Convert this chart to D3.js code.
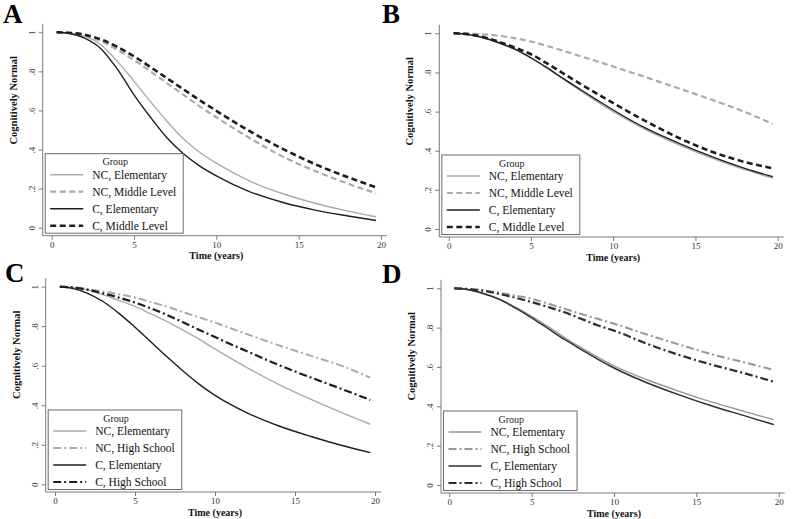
<!DOCTYPE html>
<html>
<head>
<meta charset="utf-8">
<script src="https://cdnjs.cloudflare.com/ajax/libs/d3/7.8.5/d3.min.js"></script>
<style>
  html, body { margin: 0; padding: 0; background: #fff; }
  svg { display: block; }
</style>
</head>
<body>
<svg id="chart" width="792" height="519"></svg>
<script>
// ---------------- DATA ----------------
const timeYears = [0.3, 1, 2, 3, 4, 5, 6, 7, 8, 9, 10, 12, 14, 16, 18, 19.7];
const xTicks = [0, 5, 10, 15, 20];
const yTicks = [0, 0.2, 0.4, 0.6, 0.8, 1];
const yTickLabels = ["0", ".2", ".4", ".6", ".8", "1"];
const panelLetters = ["A", "B", "C", "D"];
const legendTitle = "Group";
const xTitle = "Time (years)";
const yTitle = "Cognitively Normal";

// Panel A
const labelsA = ["NC, Elementary", "NC, Middle Level", "C, Elementary", "C, Middle Level"];
const A_NC_Elem   = [1, 0.997, 0.98, 0.935, 0.85, 0.75, 0.645, 0.545, 0.455, 0.385, 0.33, 0.24, 0.175, 0.125, 0.085, 0.056];
const A_NC_Middle = [1, 0.997, 0.985, 0.955, 0.91, 0.858, 0.80, 0.74, 0.68, 0.62, 0.565, 0.46, 0.365, 0.29, 0.225, 0.176];
const A_C_Elem    = [1, 0.995, 0.97, 0.915, 0.81, 0.68, 0.565, 0.46, 0.378, 0.315, 0.265, 0.185, 0.13, 0.09, 0.06, 0.037];
const A_C_Middle  = [1, 0.998, 0.988, 0.963, 0.925, 0.877, 0.822, 0.765, 0.708, 0.652, 0.598, 0.495, 0.405, 0.325, 0.258, 0.207];

// Panel B
const labelsB = ["NC, Elementary", "NC, Middle Level", "C, Elementary", "C, Middle Level"];
const B_NC_Elem   = [1, 0.996, 0.98, 0.953, 0.918, 0.872, 0.82, 0.763, 0.707, 0.652, 0.60, 0.507, 0.43, 0.362, 0.303, 0.26];
const B_NC_Middle = [1, 0.999, 0.995, 0.988, 0.975, 0.958, 0.935, 0.91, 0.883, 0.857, 0.83, 0.775, 0.718, 0.66, 0.598, 0.537];
const B_C_Elem    = [1, 0.996, 0.98, 0.953, 0.92, 0.875, 0.823, 0.767, 0.713, 0.66, 0.608, 0.514, 0.438, 0.37, 0.31, 0.267];
const B_C_Middle  = [1, 0.997, 0.983, 0.958, 0.928, 0.893, 0.845, 0.793, 0.742, 0.692, 0.643, 0.55, 0.465, 0.395, 0.342, 0.31];

// Panel C
const labelsC = ["NC, Elementary", "NC, High School", "C, Elementary", "C, High School"];
const C_NC_Elem = [1, 0.998, 0.985, 0.96, 0.93, 0.9, 0.862, 0.823, 0.78, 0.735, 0.685, 0.59, 0.505, 0.43, 0.36, 0.304];
const C_NC_High = [1, 0.998, 0.99, 0.976, 0.962, 0.945, 0.922, 0.899, 0.872, 0.845, 0.818, 0.76, 0.703, 0.65, 0.597, 0.54];
const C_C_Elem  = [1, 0.993, 0.968, 0.925, 0.865, 0.795, 0.72, 0.645, 0.573, 0.507, 0.45, 0.362, 0.295, 0.242, 0.195, 0.16];
const C_C_High  = [1, 0.997, 0.985, 0.966, 0.945, 0.92, 0.89, 0.857, 0.82, 0.782, 0.745, 0.673, 0.603, 0.54, 0.48, 0.427];

// Panel D
const labelsD = ["NC, Elementary", "NC, High School", "C, Elementary", "C, High School"];
const D_NC_Elem = [1, 0.995, 0.976, 0.947, 0.905, 0.857, 0.805, 0.75, 0.698, 0.65, 0.605, 0.535, 0.475, 0.42, 0.372, 0.332];
const D_NC_High = [1, 0.998, 0.99, 0.978, 0.963, 0.947, 0.922, 0.896, 0.87, 0.845, 0.82, 0.765, 0.713, 0.663, 0.622, 0.585];
const D_C_Elem  = [1, 0.995, 0.975, 0.945, 0.9, 0.85, 0.795, 0.74, 0.69, 0.64, 0.595, 0.52, 0.457, 0.40, 0.35, 0.307];
const D_C_High  = [1, 0.997, 0.988, 0.972, 0.952, 0.93, 0.905, 0.878, 0.845, 0.812, 0.785, 0.718, 0.66, 0.61, 0.566, 0.525];

// ---------------- STYLES ----------------
const GRAY = "#ababab";
const GRAY_D = "#979797";
const BLACK = "#1e1e1e";
const BLACK_D = "#2e2e2e";
const styleNCElem  = { color: GRAY,  width: 1.4, dash: null };
const styleCElem   = { color: BLACK, width: 1.4, dash: null };
const styleNCDash  = { color: GRAY,  width: 2.2, dash: "6,3.5" };
const styleCDash   = { color: BLACK, width: 2.6, dash: "6,3.5" };
const styleNCDD    = { color: GRAY,  width: 2.0, dash: "8,3,2,3" };
const styleCDD     = { color: BLACK, width: 2.2, dash: "8,3,2,3" };
const styleNCElemD = { color: GRAY_D,  width: 1.4, dash: null };
const styleCElemD  = { color: BLACK_D, width: 1.5, dash: null };
const styleNCDDD   = { color: GRAY_D,  width: 2.0, dash: "8,3,2,3" };
const styleCDDD    = { color: BLACK_D, width: 2.2, dash: "8,3,2,3" };

const panels = [
  { letter: panelLetters[0], lx: 3, ly: 23, yAxisX: 42.7, x0: 51.7, x20: 381, y1: 32.3, y0: 227.7, xAxisY: 235.7,
    labels: labelsA, series: [A_NC_Elem, A_NC_Middle, A_C_Elem, A_C_Middle],
    styles: [styleNCElem, styleNCDash, styleCElem, styleCDash] },
  { letter: panelLetters[1], lx: 382, ly: 23, yAxisX: 439.3, x0: 448.7, x20: 777.7, y1: 33.3, y0: 229, xAxisY: 237,
    labels: labelsB, series: [B_NC_Elem, B_NC_Middle, B_C_Elem, B_C_Middle],
    styles: [styleNCElem, styleNCDash, styleCElem, styleCDash] },
  { letter: panelLetters[2], lx: 5, ly: 282, yAxisX: 45.7, x0: 55, x20: 375, y1: 286.7, y0: 484.3, xAxisY: 492,
    labels: labelsC, series: [C_NC_Elem, C_NC_High, C_C_Elem, C_C_High],
    styles: [styleNCElem, styleNCDD, styleCElem, styleCDD] },
  { letter: panelLetters[3], lx: 382, ly: 283, yAxisX: 441, x0: 449.3, x20: 778.7, y1: 288.3, y0: 485, xAxisY: 493,
    labels: labelsD, series: [D_NC_Elem, D_NC_High, D_C_Elem, D_C_High],
    styles: [styleNCElemD, styleNCDDD, styleCElemD, styleCDDD] }
];

const svg = d3.select("#chart");
svg.append("rect").attr("width", 792).attr("height", 519).attr("fill", "#fff");

const SERIF = "'Liberation Serif', 'Times New Roman', serif";
const AXIS_COLOR = "#7a7a7a";

function applyStyle(sel, st) {
  sel.attr("fill", "none")
     .attr("stroke", st.color)
     .attr("stroke-width", st.width)
     .attr("stroke-dasharray", st.dash)
     .attr("stroke-linejoin", "round");
}

panels.forEach(p => {
  const g = svg.append("g");
  const x = d3.scaleLinear().domain([0, 20]).range([p.x0, p.x20]);
  const y = d3.scaleLinear().domain([0, 1]).range([p.y0, p.y1]);

  // panel letter
  g.append("text").attr("x", p.lx).attr("y", p.ly)
    .attr("font-family", SERIF).attr("font-weight", "bold").attr("font-size", 27)
    .attr("fill", "#000").text(p.letter);

  // Y axis
  const yAxis = d3.axisLeft(y).tickValues(yTicks).tickFormat((d, i) => yTickLabels[i])
    .tickSizeInner(4).tickSizeOuter(0);
  const gy = g.append("g").attr("transform", `translate(${p.yAxisX},0)`).call(yAxis);
  gy.select(".domain").attr("d", `M0,${p.y1 - 8.5}V${p.xAxisY}`).attr("stroke", AXIS_COLOR);
  gy.selectAll(".tick line").attr("stroke", AXIS_COLOR);
  gy.selectAll(".tick text")
    .attr("x", null).attr("dy", null)
    .attr("transform", "translate(-8,0) rotate(-90)")
    .attr("text-anchor", "middle")
    .attr("font-family", SERIF).attr("font-size", 9).attr("fill", "#333");

  // X axis
  const xAxis = d3.axisBottom(x).tickValues(xTicks).tickFormat(d3.format("d"))
    .tickSizeInner(4).tickSizeOuter(0).tickPadding(2);
  const gx = g.append("g").attr("transform", `translate(0,${p.xAxisY})`).call(xAxis);
  gx.select(".domain").attr("d", `M${p.yAxisX},0H${p.x20 + 6}`).attr("stroke", AXIS_COLOR);
  gx.selectAll(".tick line").attr("stroke", AXIS_COLOR);
  gx.selectAll(".tick text")
    .attr("font-family", SERIF).attr("font-size", 9).attr("fill", "#333");

  // axis titles
  g.append("text")
    .attr("x", (p.x0 + p.x20) / 2).attr("y", p.xAxisY + 23.5)
    .attr("text-anchor", "middle")
    .attr("font-family", SERIF).attr("font-weight", "bold").attr("font-size", 10)
    .attr("fill", "#111").text(xTitle);
  g.append("text")
    .attr("transform", `translate(${p.yAxisX - 26},${p.y1 + 68}) rotate(-90)`)
    .attr("text-anchor", "middle")
    .attr("font-family", SERIF).attr("font-weight", "bold").attr("font-size", 10.5)
    .attr("fill", "#111").text(yTitle);

  // lines
  const line = d3.line().x((d, i) => x(timeYears[i])).y(d => y(d)).curve(d3.curveMonotoneX);
  p.series.forEach((s, k) => {
    g.append("path").datum(s).attr("d", line).call(applyStyle, p.styles[k]);
  });

  // legend
  const lg = g.append("g");
  const boxX = p.yAxisX + 2.5;
  const boxBottom = p.xAxisY - 2.5;
  const boxH = 79.5;
  const boxY = boxBottom - boxH;
  const box = lg.append("rect").attr("x", boxX).attr("y", boxY).attr("height", boxH)
    .attr("fill", "#fff").attr("stroke", "#6a6a6a").attr("stroke-width", 1);
  let maxW = 0;
  p.labels.forEach((lab, i) => {
    const cy = boxY + 21 + i * 17;
    lg.append("line").attr("x1", boxX + 5).attr("x2", boxX + 38).attr("y1", cy).attr("y2", cy)
      .call(applyStyle, p.styles[i]);
    const t = lg.append("text").attr("x", boxX + 47).attr("y", cy + 4)
      .attr("font-family", SERIF).attr("font-size", 11.5).attr("fill", "#111").text(lab);
    maxW = Math.max(maxW, t.node().getComputedTextLength());
  });
  const boxW = 47 + maxW + 7;
  box.attr("width", boxW);
  lg.append("text").attr("x", boxX + boxW / 2 + 1).attr("y", boxY + 11.5)
    .attr("text-anchor", "middle")
    .attr("font-family", SERIF).attr("font-size", 10).attr("fill", "#222").text(legendTitle);
});
</script>
</body>
</html>
